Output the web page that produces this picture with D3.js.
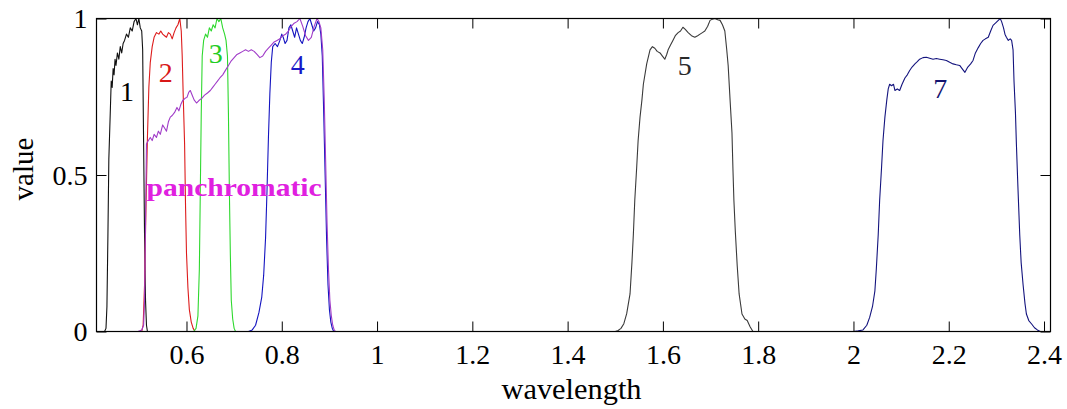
<!DOCTYPE html>
<html>
<head>
<meta charset="utf-8">
<script src="https://cdn.jsdelivr.net/npm/d3@7"></script>
<style>
  html, body { margin: 0; padding: 0; background: #fff; }
  svg { display: block; }
  svg text { font-family: "Liberation Serif", "Times New Roman", Times, serif; }
</style>
</head>
<body>
<svg id="chart" width="1067" height="409"></svg>
<script>
// Relative spectral response curves, [wavelength (µm), value]
const band1 = [[0.428,0],[0.431,0.01],[0.433,0.08],[0.435,0.3],[0.437,0.55],[0.440,0.7],[0.442,0.80],[0.444,0.78],[0.446,0.84],[0.448,0.82],[0.450,0.87],[0.452,0.85],[0.455,0.89],[0.458,0.87],[0.461,0.91],[0.464,0.89],[0.467,0.92],[0.470,0.93],[0.474,0.95],[0.478,0.94],[0.482,0.97],[0.486,0.96],[0.490,0.99],[0.494,1.0],[0.497,0.98],[0.500,1.0],[0.503,0.97],[0.506,0.96],[0.508,0.90],[0.510,0.6],[0.512,0.3],[0.514,0.1],[0.516,0.02],[0.518,0]];

const band2 = [[0.506,0],[0.509,0.02],[0.512,0.15],[0.515,0.4],[0.518,0.62],[0.521,0.78],[0.524,0.86],[0.528,0.91],[0.532,0.94],[0.537,0.955],[0.542,0.95],[0.546,0.96],[0.550,0.95],[0.554,0.945],[0.558,0.94],[0.562,0.955],[0.566,0.95],[0.570,0.935],[0.574,0.955],[0.578,0.97],[0.582,0.98],[0.586,1.0],[0.589,0.96],[0.591,0.88],[0.593,0.76],[0.596,0.6],[0.598,0.4],[0.600,0.25],[0.603,0.14],[0.606,0.07],[0.610,0.03],[0.614,0.01],[0.618,0]];

const band3 = [[0.615,0],[0.620,0.01],[0.624,0.05],[0.627,0.2],[0.629,0.45],[0.631,0.7],[0.633,0.88],[0.636,0.93],[0.640,0.95],[0.644,0.94],[0.648,0.97],[0.652,0.96],[0.656,0.98],[0.660,0.97],[0.664,1.0],[0.668,0.99],[0.672,1.0],[0.676,0.97],[0.680,0.95],[0.683,0.93],[0.686,0.88],[0.688,0.7],[0.690,0.45],[0.692,0.25],[0.694,0.1],[0.697,0.04],[0.700,0.01],[0.703,0]];

const band4 = [[0.730,0],[0.738,0.005],[0.745,0.02],[0.752,0.06],[0.758,0.11],[0.762,0.18],[0.766,0.3],[0.769,0.45],[0.772,0.62],[0.775,0.76],[0.778,0.86],[0.781,0.91],[0.786,0.92],[0.791,0.91],[0.796,0.93],[0.800,0.95],[0.803,0.94],[0.807,0.92],[0.811,0.93],[0.815,0.97],[0.819,0.98],[0.823,0.96],[0.827,0.94],[0.831,0.97],[0.835,0.95],[0.839,0.93],[0.843,0.92],[0.847,0.94],[0.851,0.97],[0.855,0.99],[0.859,1.0],[0.863,0.98],[0.867,0.96],[0.871,0.97],[0.875,0.99],[0.879,0.98],[0.882,0.95],[0.885,0.88],[0.888,0.7],[0.891,0.5],[0.894,0.3],[0.897,0.15],[0.900,0.07],[0.903,0.03],[0.906,0.01],[0.909,0]];

const band5 = [[1.500,0],[1.506,0.003],[1.512,0.01],[1.518,0.025],[1.524,0.057],[1.531,0.12],[1.535,0.22],[1.538,0.31],[1.541,0.42],[1.545,0.525],[1.548,0.61],[1.552,0.685],[1.556,0.74],[1.559,0.79],[1.566,0.855],[1.573,0.90],[1.578,0.91],[1.583,0.905],[1.588,0.895],[1.594,0.89],[1.599,0.88],[1.604,0.87],[1.608,0.885],[1.611,0.90],[1.616,0.915],[1.621,0.93],[1.626,0.945],[1.632,0.955],[1.637,0.96],[1.642,0.972],[1.647,0.965],[1.653,0.955],[1.660,0.945],[1.667,0.94],[1.673,0.945],[1.678,0.95],[1.683,0.955],[1.688,0.96],[1.694,0.975],[1.699,0.994],[1.704,0.998],[1.709,1.0],[1.715,0.996],[1.720,0.994],[1.725,0.98],[1.730,0.96],[1.734,0.9],[1.737,0.85],[1.741,0.74],[1.745,0.634],[1.747,0.52],[1.749,0.42],[1.752,0.32],[1.756,0.21],[1.760,0.12],[1.766,0.056],[1.772,0.04],[1.777,0.035],[1.783,0.015],[1.789,0]];

const band7 = [[2.000,0],[2.010,0.002],[2.020,0.005],[2.028,0.02],[2.034,0.045],[2.040,0.08],[2.045,0.13],[2.048,0.2],[2.052,0.31],[2.055,0.42],[2.059,0.525],[2.062,0.61],[2.066,0.685],[2.070,0.74],[2.073,0.775],[2.076,0.79],[2.080,0.785],[2.084,0.79],[2.087,0.77],[2.092,0.775],[2.097,0.77],[2.102,0.79],[2.108,0.81],[2.113,0.82],[2.118,0.834],[2.123,0.845],[2.129,0.855],[2.134,0.862],[2.139,0.87],[2.146,0.875],[2.153,0.876],[2.160,0.873],[2.167,0.87],[2.174,0.872],[2.181,0.87],[2.188,0.868],[2.195,0.866],[2.202,0.86],[2.209,0.855],[2.216,0.852],[2.223,0.85],[2.228,0.84],[2.234,0.828],[2.240,0.845],[2.246,0.855],[2.251,0.866],[2.256,0.89],[2.262,0.907],[2.267,0.92],[2.272,0.93],[2.277,0.935],[2.283,0.94],[2.288,0.96],[2.293,0.978],[2.298,0.985],[2.304,0.994],[2.308,1.0],[2.311,0.99],[2.315,0.97],[2.318,0.95],[2.321,0.94],[2.325,0.93],[2.329,0.935],[2.332,0.93],[2.335,0.90],[2.337,0.80],[2.340,0.70],[2.342,0.6],[2.345,0.47],[2.349,0.31],[2.352,0.22],[2.356,0.15],[2.360,0.09],[2.363,0.056],[2.368,0.035],[2.374,0.024],[2.380,0.012],[2.386,0.005],[2.392,0]];

const panchromatic = [[0.498,0],[0.506,0.005],[0.510,0.02],[0.512,0.1],[0.514,0.35],[0.516,0.6],[0.520,0.61],[0.524,0.62],[0.528,0.61],[0.532,0.63],[0.537,0.62],[0.541,0.64],[0.545,0.63],[0.550,0.66],[0.554,0.65],[0.558,0.64],[0.562,0.67],[0.566,0.685],[0.570,0.69],[0.575,0.70],[0.580,0.716],[0.584,0.705],[0.588,0.725],[0.592,0.738],[0.597,0.745],[0.601,0.748],[0.605,0.765],[0.608,0.77],[0.612,0.755],[0.616,0.74],[0.621,0.73],[0.626,0.738],[0.632,0.745],[0.638,0.755],[0.644,0.762],[0.650,0.77],[0.655,0.78],[0.660,0.79],[0.665,0.80],[0.670,0.81],[0.676,0.82],[0.682,0.835],[0.688,0.85],[0.694,0.865],[0.700,0.875],[0.706,0.885],[0.712,0.89],[0.718,0.895],[0.724,0.90],[0.730,0.895],[0.736,0.90],[0.742,0.895],[0.748,0.885],[0.754,0.875],[0.760,0.88],[0.766,0.895],[0.772,0.905],[0.778,0.915],[0.784,0.925],[0.790,0.93],[0.796,0.935],[0.802,0.945],[0.808,0.95],[0.814,0.96],[0.820,0.975],[0.826,0.985],[0.832,0.99],[0.838,1.0],[0.844,0.975],[0.850,0.945],[0.856,0.93],[0.862,0.94],[0.868,0.975],[0.874,1.0],[0.878,0.99],[0.882,0.97],[0.886,0.9],[0.889,0.75],[0.892,0.55],[0.895,0.35],[0.898,0.2],[0.901,0.1],[0.904,0.05],[0.907,0.02],[0.910,0.005],[0.913,0]];

// Axis ticks
const xTicks = [0.6, 0.8, 1, 1.2, 1.4, 1.6, 1.8, 2, 2.2, 2.4];
const xTickLabels = ["0.6", "0.8", "1", "1.2", "1.4", "1.6", "1.8", "2", "2.2", "2.4"];
const yTicks = [0, 0.5, 1];
const yTickLabels = ["0", "0.5", "1"];

// Curve labels: text, anchor wavelength, anchor value (baseline)
const bandLabels = [
  { text: "1", w: 0.475, v: 0.738 },
  { text: "2", w: 0.5565, v: 0.796 },
  { text: "3", w: 0.6614, v: 0.859 },
  { text: "4", w: 0.8336, v: 0.824 },
  { text: "5", w: 1.646, v: 0.818 },
  { text: "7", w: 2.182, v: 0.745 },
  { text: "panchromatic", w: 0.6999, v: 0.4345 }
];

const series = [
  { data: band1, color: "#111111", label: "1" },
  { data: band2, color: "#dd1c1c", label: "2" },
  { data: band3, color: "#2ed82e", label: "3" },
  { data: band4, color: "#1414c0", label: "4" },
  { data: panchromatic, color: "#a03cc8", label: "panchromatic" },
  { data: band5, color: "#3a3a3a", label: "5" },
  { data: band7, color: "#14147e", label: "7" }
];

const labelColors = {
  "1": "#000000", "2": "#d81818", "3": "#22cc22", "4": "#1818c8",
  "5": "#2a2a2a", "7": "#141470", "panchromatic": "#e020e0"
};

const serif = "'Liberation Serif', 'Times New Roman', Times, serif";

const svg = d3.select("#chart");
const plot = { left: 96.5, right: 1050.5, top: 18.5, bottom: 331.5 };

const x = d3.scaleLinear().domain([0.4111, 2.4136]).range([plot.left, plot.right]);
const y = d3.scaleLinear().domain([0, 1]).range([plot.bottom, plot.top]);

// Curves, clipped to the plot box
svg.append("clipPath").attr("id", "plotClip")
  .append("rect")
  .attr("x", plot.left).attr("y", plot.top - 1)
  .attr("width", plot.right - plot.left).attr("height", plot.bottom - plot.top + 1);

const line = d3.line().x(d => x(d[0])).y(d => y(d[1]));

svg.append("g").attr("clip-path", "url(#plotClip)")
  .selectAll("path")
  .data(series)
  .join("path")
  .attr("d", d => line(d.data))
  .attr("fill", "none")
  .attr("stroke", d => d.color)
  .attr("stroke-width", 1.1)
  .attr("stroke-linejoin", "round");

// Axes with inward ticks on all four sides
const tickLen = 10;
const axisBottom = d3.axisBottom(x).tickValues(xTicks)
  .tickFormat((d, i) => xTickLabels[i]).tickSizeInner(-tickLen).tickSizeOuter(0);
const axisTop = d3.axisTop(x).tickValues(xTicks).tickFormat("").tickSizeInner(-tickLen).tickSizeOuter(0);
const axisLeft = d3.axisLeft(y).tickValues(yTicks)
  .tickFormat((d, i) => yTickLabels[i]).tickSizeInner(-tickLen).tickSizeOuter(0);
const axisRight = d3.axisRight(y).tickValues(yTicks).tickFormat("").tickSizeInner(-tickLen).tickSizeOuter(0);

function styleAxis(g) {
  g.attr("font-family", null).attr("font-size", null);
  g.select(".domain").remove();
  g.selectAll(".tick line").attr("stroke", "#000").attr("stroke-width", 1);
  g.selectAll(".tick text")
    .attr("fill", "#000")
    .style("font-family", serif)
    .style("font-size", "28px");
}

svg.append("g").attr("transform", `translate(0,${plot.bottom})`).call(axisBottom).call(styleAxis)
  .selectAll(".tick text").attr("dy", null).attr("y", 32);
svg.append("g").attr("transform", `translate(0,${plot.top})`).call(axisTop).call(styleAxis);
svg.append("g").attr("transform", `translate(${plot.left},0)`).call(axisLeft).call(styleAxis)
  .selectAll(".tick text").attr("x", -9).attr("dy", "0.33em");
svg.append("g").attr("transform", `translate(${plot.right},0)`).call(axisRight).call(styleAxis);

// Box
svg.append("rect")
  .attr("x", plot.left).attr("y", plot.top)
  .attr("width", plot.right - plot.left).attr("height", plot.bottom - plot.top)
  .attr("fill", "none").attr("stroke", "#000").attr("stroke-width", 1.2);

// Curve labels
svg.append("g").selectAll("text")
  .data(bandLabels)
  .join("text")
  .attr("x", d => x(d.w))
  .attr("y", d => y(d.v))
  .attr("text-anchor", "middle")
  .attr("fill", d => labelColors[d.text])
  .style("font-family", serif)
  .style("font-size", d => d.text === "panchromatic" ? "25px" : "28px")
  .style("font-weight", d => d.text === "panchromatic" ? "bold" : "normal")
  .attr("textLength", d => d.text === "panchromatic" ? 175 : null)
  .attr("lengthAdjust", "spacingAndGlyphs")
  .text(d => d.text);

// Axis titles
svg.append("text")
  .attr("x", (plot.left + plot.right) / 2 - 2)
  .attr("y", 399)
  .attr("text-anchor", "middle")
  .style("font-family", serif)
  .style("font-size", "29px")
  .attr("textLength", 140)
  .attr("lengthAdjust", "spacingAndGlyphs")
  .text("wavelength");

svg.append("text")
  .attr("transform", `translate(33,${(plot.top + plot.bottom) / 2 - 6}) rotate(-90)`)
  .attr("text-anchor", "middle")
  .style("font-family", serif)
  .style("font-size", "29px")
  .text("value");
</script>
</body>
</html>
